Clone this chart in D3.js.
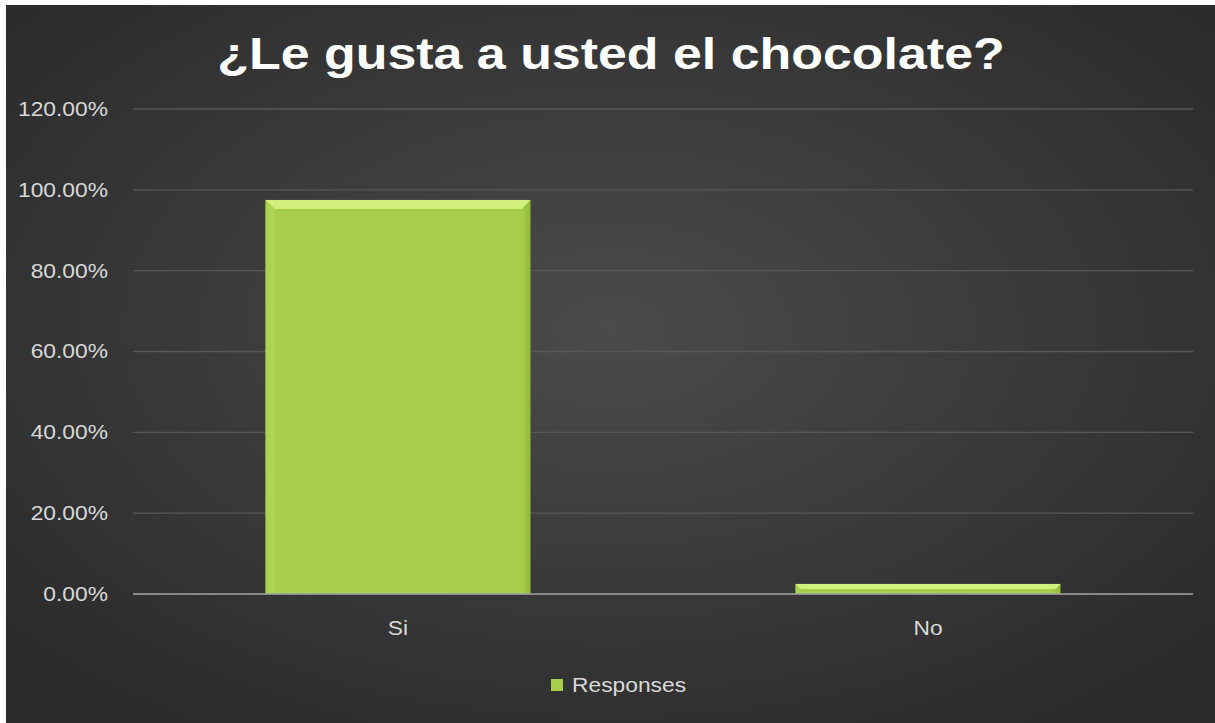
<!DOCTYPE html>
<html><head><meta charset="utf-8">
<script src="https://cdn.jsdelivr.net/npm/d3@7"></script>
<style>html,body{margin:0;padding:0;background:#fff;}svg{display:block;}</style>
</head><body>
<script>
const categories = ["Si", "No"];
const values = [0.975, 0.025];
const yTicks = [0, 0.2, 0.4, 0.6, 0.8, 1.0, 1.2];
const seriesName = "Responses";
const title = "¿Le gusta a usted el chocolate?";

const W = 1215, H = 723;
const FONT = "'Liberation Sans', Arial, sans-serif";
const SX = 1.14; // horizontal stretch of the reference text
const svg = d3.select("body").append("svg").attr("width", W).attr("height", H);
const defs = svg.append("defs");
const bg = defs.append("radialGradient").attr("id","bg").attr("cx","50%").attr("cy","45%").attr("r","65%");
bg.append("stop").attr("offset","0%").attr("stop-color","#4b4b4b");
bg.append("stop").attr("offset","100%").attr("stop-color","#2b2b2b");
const bar = defs.append("linearGradient").attr("id","bar").attr("x1","0").attr("x2","1").attr("y1","0").attr("y2","0");
bar.append("stop").attr("offset","0%").attr("stop-color","#98c040");
bar.append("stop").attr("offset","3%").attr("stop-color","#a6ce4c");
bar.append("stop").attr("offset","97%").attr("stop-color","#a6ce4c");
bar.append("stop").attr("offset","100%").attr("stop-color","#92b93c");

svg.append("rect").attr("x",6).attr("y",5).attr("width",W-6).attr("height",H-5).attr("fill","url(#bg)");

const m = {left:133, right:1193, top:109, bottom:594};
const x = d3.scaleBand().domain(categories).range([m.left, m.right]).paddingInner(0.5).paddingOuter(0.25);
const y = d3.scaleLinear().domain([0, 1.2]).range([m.bottom, m.top]);

// gridlines
svg.append("g").selectAll("line").data(yTicks.filter(d=>d>0)).join("line")
  .attr("x1", m.left).attr("x2", m.right)
  .attr("y1", d=>y(d)).attr("y2", d=>y(d))
  .attr("stroke","#575757").attr("stroke-width",1.3);

// y axis labels
const yAxis = d3.axisLeft(y).tickValues(yTicks).tickFormat(d=>(d*100).toFixed(2)+"%").tickSize(0).tickPadding(0);
const ga = svg.append("g").attr("transform",`translate(${m.left-25},0)`).call(yAxis);
ga.select(".domain").remove();
ga.selectAll("text").attr("fill","#d9d9d9").style("font-family",FONT).style("font-size","20px")
  .attr("transform",`scale(${SX},1)`);

// bars
const bars = svg.append("g").selectAll("g").data(categories.map((c,i)=>({c, v:values[i]}))).join("g");
bars.append("rect")
  .attr("x", d=>x(d.c)).attr("width", x.bandwidth())
  .attr("y", d=>y(d.v)).attr("height", d=>y(0)-y(d.v))
  .attr("fill","url(#bar)");
bars.append("path")
  .attr("d", d=>{
    const x0=x(d.c), x1=x0+x.bandwidth(), t=y(d.v), h=Math.min(9, (y(0)-y(d.v))/2);
    return `M${x0},${t}L${x1},${t}L${x1-h},${t+h}L${x0+h},${t+h}Z`;
  }).attr("fill","#d2ee7c");
bars.append("path")
  .attr("d", d=>{
    const x0=x(d.c), t=y(d.v), h=Math.min(9, (y(0)-y(d.v))/2);
    return `M${x0},${t}L${x0+h},${t+h}L${x0+h},${y(0)}L${x0},${y(0)}Z`;
  }).attr("fill","#b6da5c").attr("opacity",0.6);

// x axis line
svg.append("line").attr("x1",m.left).attr("x2",m.right).attr("y1",y(0)).attr("y2",y(0))
  .attr("stroke","#a6a6a6").attr("stroke-width",1.5);

// x labels
const xAxis = d3.axisBottom(x).tickSize(0).tickPadding(0);
const gx = svg.append("g").attr("transform",`translate(0,${y(0)+34})`).call(xAxis);
gx.select(".domain").remove();
gx.selectAll("text").attr("fill","#d9d9d9").style("font-family",FONT).style("font-size","20px")
  .attr("dy","0.35em").attr("transform",`scale(${SX},1)`);

// title
svg.append("g").attr("transform","translate(611,69)")
  .append("text").attr("text-anchor","middle").attr("transform","scale(1.18,1)")
  .attr("fill","#ffffff").style("font-family",FONT)
  .style("font-weight","bold").style("font-size","44px").text(title);

// legend
const lg = svg.append("g").attr("transform","translate(551,685)");
lg.append("rect").attr("x",0).attr("y",-6).attr("width",12).attr("height",12).attr("fill","#a6ce4c");
lg.append("g").attr("transform","translate(21,0)").append("text").attr("dy","0.35em").attr("fill","#d9d9d9")
  .attr("transform",`scale(${SX},1)`)
  .style("font-family",FONT).style("font-size","20px").text(seriesName);
</script>
</body></html>
